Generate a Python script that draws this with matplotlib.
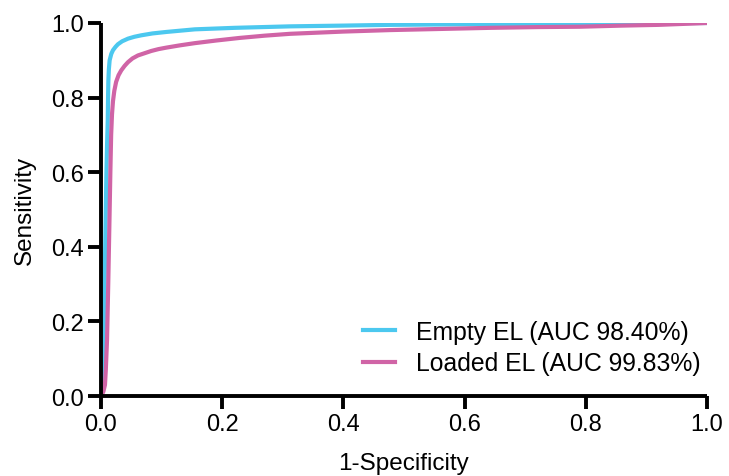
import numpy as np
import matplotlib.pyplot as plt

plt.rcParams['font.family'] = ['Liberation Sans', 'DejaVu Sans']

# ROC points
empty_fpr = [0.0, 0.001, 0.002, 0.003, 0.004, 0.005, 0.006, 0.007, 0.008, 0.009,
             0.010, 0.0112, 0.0117, 0.0122, 0.013, 0.0143, 0.017, 0.0198, 0.024,
             0.028, 0.035, 0.0446, 0.055, 0.0666, 0.085, 0.108, 0.155, 0.22,
             0.312, 0.40, 0.477, 0.56, 0.642, 0.75, 0.85, 1.0]
empty_tpr = [0.0, 0.02, 0.04, 0.07, 0.12, 0.20, 0.30, 0.40, 0.50, 0.60,
             0.67, 0.74, 0.80, 0.845, 0.875, 0.90, 0.917, 0.927, 0.936,
             0.943, 0.951, 0.958, 0.963, 0.967, 0.972, 0.976, 0.983, 0.987,
             0.991, 0.993, 0.995, 0.996, 0.997, 0.998, 0.999, 1.0]

loaded_fpr = [0.0, 0.002, 0.004, 0.0066, 0.008, 0.010, 0.012, 0.014, 0.0155,
              0.0168, 0.0182, 0.0198, 0.022, 0.025, 0.029, 0.0335, 0.039,
              0.0446, 0.052, 0.061, 0.072, 0.083, 0.095, 0.108, 0.13, 0.155,
              0.19, 0.229, 0.27, 0.312, 0.40, 0.477, 0.56, 0.642, 0.72, 0.79,
              0.86, 0.92, 1.0]
loaded_tpr = [0.0, 0.005, 0.012, 0.03, 0.07, 0.15, 0.30, 0.47, 0.60,
              0.70, 0.755, 0.79, 0.818, 0.842, 0.86, 0.873, 0.885,
              0.895, 0.905, 0.913, 0.919, 0.925, 0.930, 0.934, 0.940, 0.946,
              0.953, 0.960, 0.966, 0.971, 0.977, 0.981, 0.984, 0.987, 0.989, 0.990,
              0.993, 0.995, 1.0]

labels = ['Empty EL (AUC 98.40%)', 'Loaded EL (AUC 99.83%)']
colors = ['#4CC8EF', '#D064A6']

fig = plt.figure(figsize=(7.29, 4.77), dpi=100)
ax = fig.add_axes([0.1385, 0.1677, 0.8313, 0.782])

ax.plot(empty_fpr, empty_tpr, color=colors[0], lw=3.0, label=labels[0],
        solid_joinstyle='round')
ax.plot(loaded_fpr, loaded_tpr, color=colors[1], lw=3.0, label=labels[1],
        solid_joinstyle='round')

ax.set_xlim(0, 1)
ax.set_ylim(0, 1)
ax.set_xticks(np.arange(0, 1.01, 0.2))
ax.set_yticks(np.arange(0, 1.01, 0.2))
ax.xaxis.set_major_formatter(plt.FormatStrFormatter('%.1f'))
ax.yaxis.set_major_formatter(plt.FormatStrFormatter('%.1f'))

for s in ['top', 'right']:
    ax.spines[s].set_visible(False)
for s in ['left', 'bottom']:
    ax.spines[s].set_linewidth(2.8)
    ax.spines[s].set_capstyle('butt')
ax.tick_params(width=2.8, length=9.5, direction='out', labelsize=17, pad=3)

ax.set_xlabel('1-Specificity', fontsize=17.5, labelpad=12)
ax.set_ylabel('Sensitivity', fontsize=17.5, labelpad=11)

ax.legend(loc='lower right', frameon=False, fontsize=17.8, handlelength=1.3,
          handletextpad=0.85, labelspacing=0.32, borderpad=0, borderaxespad=0,
          bbox_to_anchor=(0.99, 0.055))

fig.savefig('out.png', dpi=100)
